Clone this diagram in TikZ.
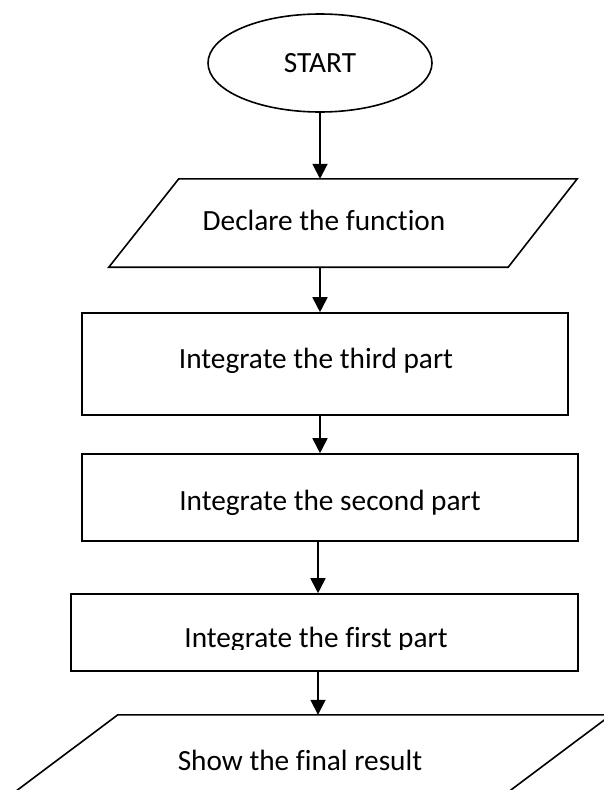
\documentclass[tikz,border=0pt]{standalone}
\usepackage{fontspec}
\setmainfont{Carlito}[Ligatures=NoCommon]
\usetikzlibrary{arrows.meta,shapes.geometric}
\begin{document}
\begin{tikzpicture}[x=1pt,y=-1pt,
  txt/.style={font=\fontsize{29.3}{35}\selectfont},
  lbl/.style={txt, anchor=base, inner sep=0pt},
  outline/.style={draw, line width=1.6pt},
  boxarea/.style={inner sep=0pt, minimum width=#1},
  procbox/.style={outline, inner sep=0pt, minimum width=#1},
  arr/.style={line width=1.8pt, -{Triangle[width=15pt,length=15pt]}}
]
\clip (0,0) rectangle (604,790);
\fill[white] (0,0) rectangle (604,790);

% start
\node[outline, ellipse, inner sep=0pt, minimum width=224pt, minimum height=98pt, txt] (start) at (320,63) {START};

% declare (parallelogram)
\node[boxarea=468pt, minimum height=88pt] (decl) at (343,223) {};
\draw[outline, line join=miter] ([xshift=70pt]decl.north west) -- (decl.north east)
  -- ([xshift=-69pt]decl.south east) -- (decl.south west) -- cycle;
\node[lbl] (decltxt) at (324,230) {Declare the function};

% rect 1
\node[procbox=486pt, minimum height=102pt] (r1) at (325,364) {};
\node[lbl] (r1txt) at (316,368) {Integrate the third part};

% rect 2
\node[procbox=496pt, minimum height=87pt] (r2) at (330,497.5) {};
\node[lbl] (r2txt) at (330,510) {Integrate the second part};

% rect 3
\node[procbox=507pt, minimum height=77pt] (r3) at (324.5,632.5) {};
\begin{scope}
  \clip (71,594) rectangle (578,649);
  \node[lbl] (r3txt) at (316,647) {Integrate the first part};
\end{scope}

% show (parallelogram, cut by the page)
\node[boxarea=611pt, minimum height=88pt] (show) at (305.5,759) {};
\draw[outline, line join=miter] ([xshift=118pt]show.north west) -- (show.north east)
  -- ([xshift=-118pt]show.south east) -- (show.south west) -- cycle;
\node[lbl] (showtxt) at (300,770) {Show the final result};

% connectors
\draw[arr] (start.south) -- (decl.north -| start.south);
\draw[arr] (decl.south -| start.south) -- (r1.north -| start.south);
\draw[arr] (r1.south -| start.south) -- (r2.north -| start.south);
\draw[arr] ([xshift=-2pt]r2.south -| start.south) -- ([xshift=-2pt]r3.north -| start.south);
\draw[arr] ([xshift=-2pt]r3.south -| start.south) -- ([xshift=-2pt]show.north -| start.south);
\end{tikzpicture}
\end{document}
